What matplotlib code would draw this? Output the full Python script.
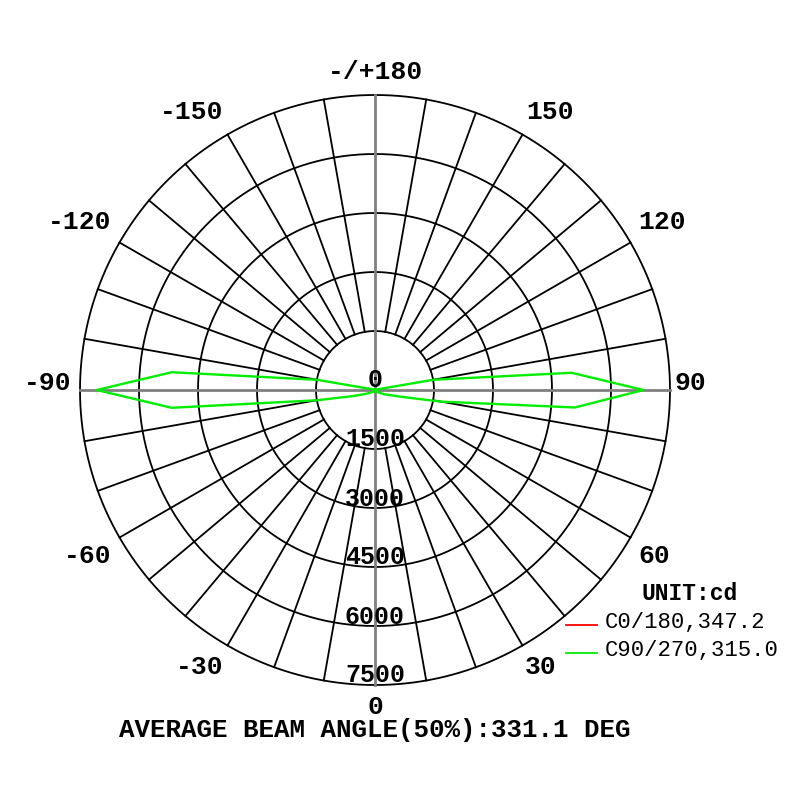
import matplotlib.pyplot as plt
from matplotlib.transforms import offset_copy
import numpy as np

# gamma angles (deg) and intensities (cd)
gamma = [0, 5, 10, 15, 20, 25, 30, 35, 40, 45, 50, 55, 60, 65, 70, 75, 80, 85, 90,
         95, 100, 105, 110, 115, 120, 125, 130, 135, 140, 145, 150, 155, 160, 165, 170, 175, 180]
c90 = [20, 20, 25, 25, 30, 35, 40, 45, 55, 65, 80, 100, 150, 260, 350, 650, 1700, 5100, 6820,
       5020, 1500, 60, 40, 35, 30, 30, 25, 25, 25, 20, 20, 20, 20, 20, 20, 20, 20]
c270 = [20, 20, 25, 25, 30, 35, 40, 45, 55, 65, 80, 100, 130, 200, 330, 610, 1505, 5190, 7075,
        5186, 1492, 60, 40, 35, 30, 30, 25, 25, 25, 20, 20, 20, 20, 20, 20, 20, 20]
c0 = [10] * len(gamma)
c180 = [10] * len(gamma)

ring_values = [1500, 3000, 4500, 6000, 7500]
ring_labels = ["0", "1500", "3000", "4500", "6000", "7500"]
angle_labels = ["0", "30", "60", "90", "120", "150", "-/+180", "-150", "-120", "-90", "-60", "-30"]
# label centres in pixels (from top-left), as they sit in the reference
angle_label_xy = [(375, 707), (541, 667), (654, 556), (690, 383), (662, 222), (550, 112),
                  (375, 72), (192, 112), (80, 222), (48, 383), (88, 556), (200, 667)]
legend_names = ["C0/180,347.2", "C90/270,315.0"]

RMAX = 7500
FONT = "Liberation Mono"
W = H = 800

fig = plt.figure(figsize=(8, 8), dpi=100)
ax = fig.add_axes([0.1, 0.14375, 0.7375, 0.7375], projection="polar")
ax.set_theta_zero_location("S")
ax.set_theta_direction(1)
ax.set_ylim(0, RMAX)
ax.grid(False)
ax.set_xticks([])
ax.set_yticks([])
ax.spines["polar"].set_visible(False)
ax.patch.set_alpha(0)

# grid circles
t = np.linspace(0, 2 * np.pi, 721)
for rv in ring_values:
    ax.plot(t, [rv] * len(t), color="black", lw=1.3, zorder=1, clip_on=False)

# radial lines every 10 deg from the first ring outward
for a in range(0, 360, 10):
    if a % 90 == 0:
        continue
    th = np.deg2rad(a)
    ax.plot([th, th], [ring_values[0], RMAX], color="black", lw=1.3, zorder=1, clip_on=False)

# main axes through the centre
for a in [0, 90, 180, 270]:
    th = np.deg2rad(a)
    ax.plot([th, th], [0, RMAX], color="#808080", lw=2, zorder=1.5, clip_on=False)

# curves: C0/180 (red) and C90/270 (green)
g = np.deg2rad(np.array(gamma))
th_red = np.concatenate([g, -g[::-1]])
r_red = np.concatenate([c0, c180[::-1]])
ax.plot(th_red, r_red, color="#ff0000", lw=1.5, zorder=2)

th_green = np.concatenate([g, -g[::-1]])
r_green = np.concatenate([c90, c270[::-1]])
ax.plot(th_green, r_green, color="#00ee00", lw=1.7, zorder=3)

# ring labels along the nadir axis, sitting just above each ring
up = offset_copy(ax.transData, fig=fig, x=0, y=9.5, units="dots")
for i, lab in enumerate(ring_labels):
    rv = 0 if i == 0 else ring_values[i - 1]
    ax.text(0, rv, lab, ha="center", va="center", fontsize=18, family=FONT,
            fontweight="bold", zorder=4, transform=up)

# angle labels
for lab, (px, py) in zip(angle_labels, angle_label_xy):
    fig.text(px / W, 1 - py / H, lab, ha="center", va="center", fontsize=19,
             family=FONT, fontweight="bold")

# legend
fig.text(690 / W, 1 - 594 / H, "UNIT:cd", ha="center", va="center", fontsize=16.5,
         family=FONT, fontweight="bold")
leg_colors = ["#ff0000", "#00ee00"]
leg_y = [625, 653]
for name, col, yy in zip(legend_names, leg_colors, leg_y):
    fig.add_artist(plt.Line2D([566 / W, 597 / W], [1 - yy / H, 1 - yy / H],
                              color=col, lw=1.3))
    fig.text(605 / W, 1 - (yy - 2) / H, name, ha="left", va="center", fontsize=16,
             family=FONT)

fig.text(375 / W, 1 - 730 / H, "AVERAGE BEAM ANGLE(50%):331.1 DEG", ha="center",
         va="center", fontsize=18.6, family=FONT, fontweight="bold")

fig.savefig("out.png", dpi=100, facecolor="white")
